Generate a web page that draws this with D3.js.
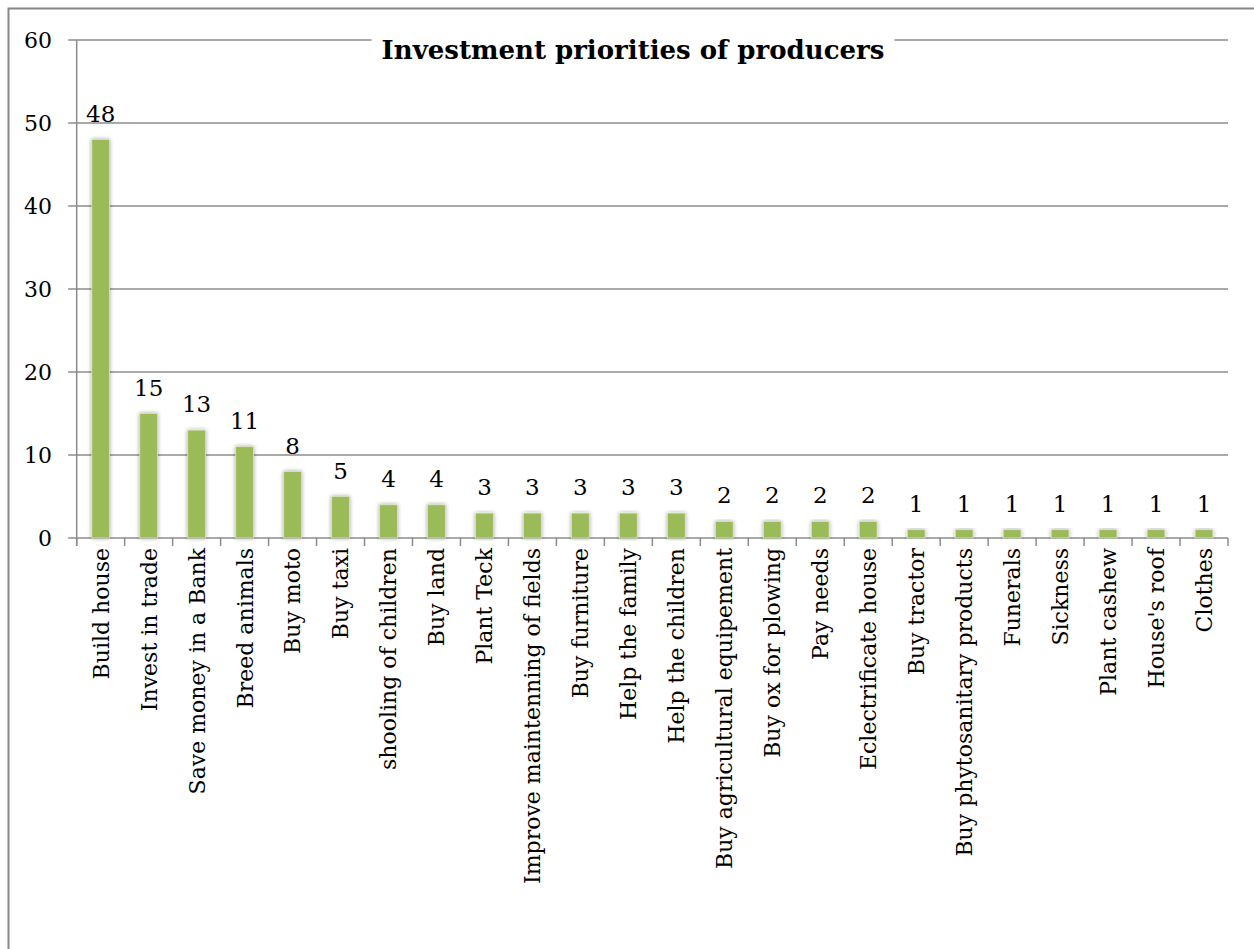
<!DOCTYPE html>
<html>
<head>
<meta charset="utf-8">
<script src="https://cdn.jsdelivr.net/npm/d3@7"></script>
<style>
  html, body { margin: 0; padding: 0; background: #fff; }
  svg { display: block; }
  text { font-family: "DejaVu Serif", serif; fill: #000; }
</style>
</head>
<body>
<svg id="chart" width="1254" height="949"></svg>
<script>
// Survey answers: what producers would invest in
const categories = [
  "Build house", "Invest in trade", "Save money in a Bank", "Breed animals",
  "Buy moto", "Buy taxi", "shooling of children", "Buy land", "Plant Teck",
  "Improve maintenning of fields", "Buy furniture", "Help the family",
  "Help the children", "Buy agricultural equipement", "Buy ox for plowing",
  "Pay needs", "Eclectrificate house", "Buy tractor",
  "Buy phytosanitary products", "Funerals", "Sickness", "Plant cashew",
  "House's roof", "Clothes"
];
const counts = [48, 15, 13, 11, 8, 5, 4, 4, 3, 3, 3, 3, 3, 2, 2, 2, 2, 1, 1, 1, 1, 1, 1, 1];
const yTicks = [0, 10, 20, 30, 40, 50, 60];
const chartTitle = "Investment priorities of producers";

const svg = d3.select("#chart");
const W = 1254, H = 949;
const plot = { left: 76.7, right: 1228, top: 40, bottom: 538 };
const gridColor = "#8c8c8c";
const barColor = "#9bbb59";

// soft shadow around bars
const defs = svg.append("defs");
const f = defs.append("filter").attr("id", "barShadow")
  .attr("x", "-50%").attr("y", "-10%").attr("width", "200%").attr("height", "120%");
f.append("feGaussianBlur").attr("in", "SourceAlpha").attr("stdDeviation", 2).attr("result", "b");
f.append("feComponentTransfer").attr("in", "b").attr("result", "s")
  .append("feFuncA").attr("type", "linear").attr("slope", 0.35);
const m = f.append("feMerge");
m.append("feMergeNode").attr("in", "s");
m.append("feMergeNode").attr("in", "SourceGraphic");

// outer frame
svg.append("rect")
  .attr("x", 8.5).attr("y", 8.5)
  .attr("width", W + 20).attr("height", H + 20)
  .attr("fill", "#fff").attr("stroke", "#878787").attr("stroke-width", 2);

const x = d3.scaleBand()
  .domain(categories)
  .range([plot.left, plot.right])
  .paddingInner(0.63)
  .paddingOuter(0.315);

const y = d3.scaleLinear().domain([0, 60]).range([plot.bottom, plot.top]);

// horizontal gridlines with left tick stubs
svg.append("g").selectAll("line").data(yTicks).join("line")
  .attr("x1", plot.left - 8.5).attr("x2", plot.right)
  .attr("y1", d => y(d)).attr("y2", d => y(d))
  .attr("stroke", gridColor).attr("stroke-width", 1.5);

// y axis line
svg.append("line")
  .attr("x1", plot.left).attr("x2", plot.left)
  .attr("y1", plot.top).attr("y2", plot.bottom + 8)
  .attr("stroke", gridColor).attr("stroke-width", 1.5);

// x tick marks at band boundaries
const step = x.step();
const bounds = d3.range(categories.length + 1).map(i => plot.left + i * step);
svg.append("g").selectAll("line").data(bounds).join("line")
  .attr("x1", d => d).attr("x2", d => d)
  .attr("y1", plot.bottom).attr("y2", plot.bottom + 8)
  .attr("stroke", gridColor).attr("stroke-width", 1.5);

// y tick labels
svg.append("g").selectAll("text").data(yTicks).join("text")
  .attr("x", 52).attr("y", d => y(d))
  .attr("dy", "0.36em")
  .attr("text-anchor", "end")
  .attr("font-size", 22)
  .text(d => d);

// bars
svg.append("g").selectAll("rect").data(counts).join("rect")
  .attr("x", (d, i) => x(categories[i]))
  .attr("width", x.bandwidth())
  .attr("y", d => y(d))
  .attr("height", d => y(0) - y(d))
  .attr("fill", barColor)
  .attr("stroke", "#d7e4bd").attr("stroke-width", 0.8)
  .attr("filter", "url(#barShadow)");

// value labels above bars
svg.append("g").selectAll("text").data(counts).join("text")
  .attr("x", (d, i) => x(categories[i]) + x.bandwidth() / 2)
  .attr("y", d => y(d) - 18)
  .attr("text-anchor", "middle")
  .attr("font-size", 23)
  .text(d => d);

// category labels, rotated
svg.append("g").selectAll("text").data(categories).join("text")
  .attr("transform", d => `translate(${x(d) + x.bandwidth() / 2},548) rotate(-90)`)
  .attr("dy", "0.36em")
  .attr("text-anchor", "end")
  .attr("font-size", 22)
  .text(d => d);

// title on a white plate over the top gridline
const titleG = svg.append("g");
const plate = titleG.append("rect").attr("fill", "#fff");
const t = titleG.append("text")
  .attr("x", 633).attr("y", 59)
  .attr("text-anchor", "middle")
  .attr("font-size", 26)
  .attr("font-weight", "bold")
  .text(chartTitle);
const bb = t.node().getBBox();
plate.attr("x", bb.x - 10).attr("y", bb.y).attr("width", bb.width + 20).attr("height", bb.height);
</script>
</body>
</html>
